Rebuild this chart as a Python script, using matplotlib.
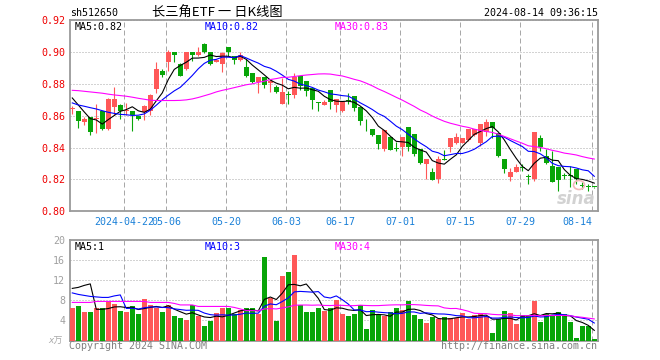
#!/usr/bin/env python
# -*- coding: utf-8 -*-
import numpy as np
import pandas as pd
import matplotlib
matplotlib.use("Agg")
from matplotlib import pyplot as plt
from matplotlib.patches import Ellipse

plt.rcParams['font.family'] = ['DejaVu Sans Mono', 'Noto Sans CJK SC']

# ---- daily K data, 2024-04-09 .. 2024-08-14 ----
opens = [0.8640, 0.8633, 0.8560, 0.8594, 0.8579, 0.8629, 0.8515, 0.8657, 0.8666, 0.8629,
         0.8629, 0.8598, 0.8623, 0.8629, 0.8769, 0.8879, 0.8935, 0.9002, 0.8925, 0.8896,
         0.8998, 0.8979, 0.9050, 0.9000, 0.8937, 0.8927, 0.9031, 0.8977, 0.8948, 0.8904,
         0.8867, 0.8813, 0.8846, 0.8806, 0.8779, 0.8677, 0.8733, 0.8729, 0.8848, 0.8817,
         0.8775, 0.8685, 0.8665, 0.8765, 0.8665, 0.8629, 0.8698, 0.8727, 0.8658, 0.8560,
         0.8515, 0.8477, 0.8390, 0.8467, 0.8396, 0.8402, 0.8531, 0.8488, 0.8390, 0.8296,
         0.8244, 0.8202, 0.8325, 0.8404, 0.8431, 0.8431, 0.8446, 0.8479, 0.8431, 0.8500,
         0.8560, 0.8494, 0.8327, 0.8213, 0.8250, 0.8277, 0.8215, 0.8202, 0.8458, 0.8348,
         0.8285, 0.8279, 0.8221, 0.8225, 0.8265, 0.8162, 0.8152, 0.8152]
highs = [0.8662, 0.8633, 0.8594, 0.8594, 0.8677, 0.8629, 0.8712, 0.8783, 0.8675, 0.8683,
         0.8630, 0.8598, 0.8669, 0.8735, 0.8935, 0.8894, 0.9015, 0.9002, 0.8931, 0.9002,
         0.8998, 0.9031, 0.9056, 0.9002, 0.8960, 0.8998, 0.9035, 0.8977, 0.9000, 0.8956,
         0.8867, 0.8846, 0.8846, 0.8827, 0.8796, 0.8838, 0.8754, 0.8867, 0.8848, 0.8817,
         0.8775, 0.8685, 0.8698, 0.8765, 0.8708, 0.8688, 0.8746, 0.8727, 0.8658, 0.8577,
         0.8519, 0.8477, 0.8510, 0.8467, 0.8435, 0.8465, 0.8531, 0.8488, 0.8390, 0.8327,
         0.8275, 0.8348, 0.8383, 0.8458, 0.8494, 0.8463, 0.8515, 0.8515, 0.8546, 0.8577,
         0.8560, 0.8494, 0.8327, 0.8269, 0.8300, 0.8300, 0.8233, 0.8498, 0.8477, 0.8394,
         0.8379, 0.8279, 0.8238, 0.8285, 0.8265, 0.8181, 0.8171, 0.8154]
lows = [0.8610, 0.8523, 0.8542, 0.8477, 0.8492, 0.8510, 0.8510, 0.8607, 0.8579, 0.8606,
        0.8502, 0.8573, 0.8573, 0.8606, 0.8742, 0.8844, 0.8879, 0.8938, 0.8848, 0.8890,
        0.8942, 0.8973, 0.8994, 0.8917, 0.8935, 0.8873, 0.8973, 0.8925, 0.8944, 0.8842,
        0.8806, 0.8744, 0.8775, 0.8748, 0.8744, 0.8671, 0.8671, 0.8712, 0.8760, 0.8727,
        0.8640, 0.8633, 0.8665, 0.8640, 0.8621, 0.8625, 0.8671, 0.8629, 0.8542, 0.8504,
        0.8475, 0.8390, 0.8380, 0.8383, 0.8379, 0.8348, 0.8379, 0.8348, 0.8296, 0.8202,
        0.8198, 0.8177, 0.8323, 0.8373, 0.8421, 0.8429, 0.8440, 0.8473, 0.8410, 0.8473,
        0.8458, 0.8342, 0.8240, 0.8192, 0.8248, 0.8254, 0.8171, 0.8192, 0.8379, 0.8296,
        0.8181, 0.8129, 0.8202, 0.8150, 0.8170, 0.8140, 0.8129, 0.8148]
closes = [0.8645, 0.8567, 0.8579, 0.8498, 0.8581, 0.8515, 0.8708, 0.8708, 0.8629, 0.8635,
          0.8604, 0.8581, 0.8660, 0.8729, 0.8896, 0.8854, 0.9000, 0.8979, 0.8852, 0.8998,
          0.8983, 0.9002, 0.9000, 0.8927, 0.8950, 0.8994, 0.8998, 0.8952, 0.8979, 0.8850,
          0.8815, 0.8846, 0.8796, 0.8817, 0.8752, 0.8752, 0.8731, 0.8842, 0.8790, 0.8758,
          0.8698, 0.8683, 0.8685, 0.8685, 0.8708, 0.8688, 0.8696, 0.8646, 0.8567, 0.8558,
          0.8480, 0.8425, 0.8510, 0.8388, 0.8394, 0.8465, 0.8404, 0.8358, 0.8306, 0.8327,
          0.8198, 0.8327, 0.8323, 0.8458, 0.8467, 0.8463, 0.8515, 0.8515, 0.8546, 0.8560,
          0.8525, 0.8348, 0.8265, 0.8244, 0.8279, 0.8275, 0.8213, 0.8498, 0.8404, 0.8306,
          0.8185, 0.8198, 0.8219, 0.8223, 0.8202, 0.8160, 0.8150, 0.8150]
# volume in 万
volumes = [6.5, 6.8, 5.7, 5.7, 6.4, 6.5, 7.6, 7.3, 5.9, 5.6,
           6.8, 5.3, 8.3, 7.1, 6.5, 5.7, 7.1, 4.9, 4.5, 4.1,
           7.1, 4.9, 2.9, 3.9, 5.5, 6.4, 6.4, 5.2, 6.1, 6.4,
           6.5, 5.3, 16.7, 8.5, 3.9, 12.8, 13.7, 17.1, 7.1, 5.7,
           5.7, 6.5, 5.9, 6.4, 8.1, 5.3, 4.9, 5.3, 7.1, 2.3,
           6.1, 5.2, 4.9, 5.7, 6.5, 6.1, 7.9, 5.1, 4.3, 3.5,
           4.7, 4.3, 4.7, 4.5, 4.5, 5.5, 4.3, 5.1, 5.5, 4.9,
           1.5, 4.3, 5.9, 5.5, 3.3, 5.1, 4.9, 7.9, 3.7, 5.3,
           4.8, 5.7, 5.3, 3.6, 0.5, 2.9, 2.8, 0.3]

# moving-average values before a full window is available
ma5_head = [0.8712, 0.8668, 0.8624, 0.8582]
ma10_head = [0.8681, 0.8668, 0.8660, 0.8651, 0.8643, 0.8632, 0.8622, 0.8615, 0.8609]
ma30_head = [0.8760, 0.8758, 0.8754, 0.8750, 0.8746, 0.8742, 0.8736, 0.8731, 0.8727, 0.8723,
             0.8717, 0.8710, 0.8704, 0.8698, 0.8696, 0.8696, 0.8696, 0.8696, 0.8697, 0.8700,
             0.8706, 0.8715, 0.8726, 0.8737, 0.8750, 0.8760, 0.8768, 0.8777, 0.8786]
vma5_head = [10.4, 10.6, 11.0, 11.3]
vma10_head = [9.5, 9.2, 9.0, 8.8, 8.7, 8.6, 8.6, 8.9, 9.1]
vma30_head = [7.6, 7.6, 7.6, 7.6, 7.8, 7.8, 7.8, 7.8, 7.8, 7.8,
              7.8, 7.8, 7.8, 7.6, 7.6, 7.6, 7.6, 7.4, 7.1, 7.1,
              7.1, 6.8, 6.8, 6.8, 6.8, 6.8, 6.8, 6.6, 6.3]

holidays = ["2024-05-01", "2024-05-02", "2024-05-03", "2024-06-10"]
tick_dates = ["2024-04-22", "2024-05-06", "2024-05-20", "2024-06-03", "2024-06-17",
              "2024-07-01", "2024-07-15", "2024-07-29", "2024-08-14"]
tick_labels = ["2024-04-22", "05-06", "05-20", "06-03", "06-17",
               "07-01", "07-15", "07-29", "08-14"]

#------------------------------#

RED = '#FF5858'
GREEN = '#08A508'
GRID = '#A8A8A8'
FRAME = '#9A9A9A'

days = pd.bdate_range("2024-04-09", "2024-08-14")
days = days[~days.isin(pd.to_datetime(holidays))]
tick_pos = [days.get_loc(pd.Timestamp(d)) - 0.35 for d in tick_dates]

x = np.arange(len(closes))
o = np.array(opens)
c = np.array(closes)
cols = np.where(c >= o, RED, GREEN)


def moving(vals, n, head):
    s = pd.Series(vals).rolling(n).mean()
    s.iloc[:n - 1] = head
    return s


W, H = 660, 360
fig = plt.figure(figsize=(W / 100, H / 100), dpi=100)


def fx(px):
    return px / W


def fy(py):
    return 1 - py / H


ax = fig.add_axes([fx(70), fy(211.3), 528 / W, (211.3 - 20.3) / H])
axv = fig.add_axes([fx(70), fy(340.5), 528 / W, (340.5 - 240.3) / H])

# price panel
ax.vlines(x, lows, highs, colors=cols, lw=0.8, zorder=3)
body_lo = np.minimum(o, c)
body_h = np.maximum(np.abs(c - o), 0.0006)
ax.bar(x, body_h, bottom=body_lo, width=0.8, color=cols, linewidth=0, zorder=3)

ax.plot(x, moving(closes, 5, ma5_head), color='black', lw=0.8, zorder=4)
ax.plot(x, moving(closes, 10, ma10_head), color='#0000FF', lw=0.8, zorder=4)
ax.plot(x, moving(closes, 30, ma30_head), color='#FF00FF', lw=0.8, zorder=4)

ax.set_xlim(-0.38, 87.62)
ax.set_ylim(0.80, 0.92)
yt = np.round(np.arange(0.80, 0.921, 0.02), 2)
ax.set_yticks(yt)
ax.set_yticklabels(["%.2f" % v for v in yt])
ax.tick_params(axis='y', length=0, pad=3.5, labelcolor='#EE0000', labelsize=7.2)
ax.set_xticks(tick_pos)
ax.set_xticklabels(tick_labels)
ax.tick_params(axis='x', length=0, pad=4, labelcolor='#1A80D8', labelsize=7.2)
ax.get_xticklabels()[-1].set_horizontalalignment('right')
ax.set_axisbelow(True)
ax.grid(axis='y', ls=(0, (1, 2)), color=GRID, lw=0.72)
ax.grid(axis='x', ls=(0, (5, 3)), color=GRID, lw=0.72)

# volume panel
axv.bar(x, volumes, width=0.85, color=cols, linewidth=0, zorder=3)
axv.plot(x, moving(volumes, 5, vma5_head), color='black', lw=0.8, zorder=4)
axv.plot(x, moving(volumes, 10, vma10_head), color='#0000FF', lw=0.8, zorder=4)
axv.plot(x, moving(volumes, 30, vma30_head), color='#FF00FF', lw=0.8, zorder=4)
axv.set_xlim(-0.38, 87.62)
axv.set_ylim(0, 20)
axv.set_yticks([4, 8, 12, 16, 20])
axv.set_yticklabels(["4", "8", "12", "16", "20"])
axv.tick_params(axis='y', length=0, pad=3.5, labelcolor='#A0A0A0', labelsize=7.2)
axv.set_xticks(tick_pos)
axv.set_xticklabels([])
axv.tick_params(axis='x', length=0)
axv.set_axisbelow(True)
axv.grid(axis='y', ls=(0, (1, 2)), color=GRID, lw=0.72)
axv.grid(axis='x', ls=(0, (5, 3)), color=GRID, lw=0.72)

for a in (ax, axv):
    for s in a.spines.values():
        s.set_color(FRAME)
        s.set_linewidth(1.3)

# header and labels
fs = 7.2
fig.text(fx(70), fy(13.5), "sh512650", fontsize=fs, va='center', ha='left')
fig.text(fx(217), fy(13.5), "长三角ETF 一 日K线图", fontsize=9.5, va='center', ha='center',
         family=['Noto Sans CJK SC', 'DejaVu Sans'])
fig.text(fx(598), fy(13.5), "2024-08-14 09:36:15", fontsize=fs, va='center', ha='right')

fig.text(fx(75), fy(27.5), "MA5:0.82", fontsize=fs, va='center', color='black')
fig.text(fx(205), fy(27.5), "MA10:0.82", fontsize=fs, va='center', color='#0000FF')
fig.text(fx(335), fy(27.5), "MA30:0.83", fontsize=fs, va='center', color='#FF00FF')

fig.text(fx(75), fy(247), "MA5:1", fontsize=fs, va='center', color='black')
fig.text(fx(205), fy(247), "MA10:3", fontsize=fs, va='center', color='#0000FF')
fig.text(fx(335), fy(247), "MA30:4", fontsize=fs, va='center', color='#FF00FF')

fig.text(fx(63), fy(341), "x万", fontsize=6.5, va='center', ha='right', color='#A8A8A8',
         style='italic', family=['DejaVu Sans Mono', 'Noto Sans CJK SC'])
fig.text(fx(69), fy(346), "Copyright 2024 SINA.COM", fontsize=fs, va='center', ha='left',
         color='#808080')
fig.text(fx(597), fy(346), "http://finance.sina.com.cn", fontsize=fs, va='center', ha='right',
         color='#808080')

# sina watermark
fig.text(fx(576), fy(199), "sina", fontsize=12, fontweight='bold', style='italic',
         color='#D2D2D2', ha='center', va='center', family='DejaVu Sans')
fig.patches.append(Ellipse((fx(579), fy(185)), 11 / W, 9 / H, transform=fig.transFigure,
                           fill=False, edgecolor='#F2B8B8', lw=1.2))

fig.savefig("out.png", dpi=100)
